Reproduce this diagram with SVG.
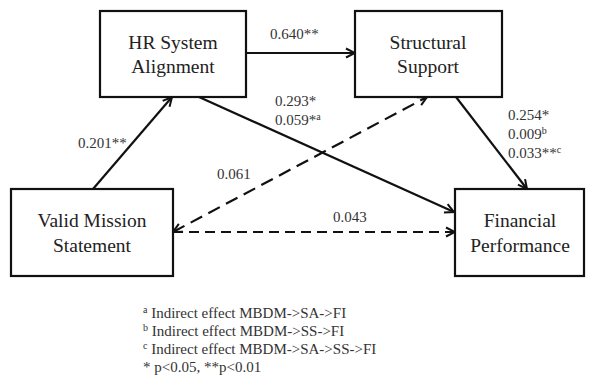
<svg xmlns="http://www.w3.org/2000/svg" width="593" height="390" viewBox="0 0 593 390">
<style>
text{font-family:"Liberation Serif","Times New Roman",serif}
.box{fill:#fff;stroke:#111;stroke-width:2.2}
.nt{font-size:19.5px;fill:#222;text-anchor:middle}
.lb{font-size:15px;fill:#333}
.sup{font-size:10px}
.ln{stroke:#111;stroke-width:2.2;fill:none}
.d1{stroke-dasharray:13 7}
.d2{stroke-dasharray:10 6}
</style>
<defs>
<marker id="ah" viewBox="0 0 12 12" refX="11" refY="6" markerWidth="12" markerHeight="12" markerUnits="userSpaceOnUse" orient="auto-start-reverse">
<path d="M2,1.5 L11,6 L2,10.5" fill="none" stroke="#111" stroke-width="2"/>
</marker>
</defs>
<rect width="593" height="390" fill="#fff"/>
<g id="hr">
<rect class="box" x="100" y="11" width="146" height="86"/>
<text class="nt" x="173" y="49">HR System</text>
<text class="nt" x="173" y="73">Alignment</text>
</g>
<g id="ss">
<rect class="box" x="355" y="11" width="147" height="86"/>
<text class="nt" x="428" y="49">Structural</text>
<text class="nt" x="428" y="73">Support</text>
</g>
<g id="vms">
<rect class="box" x="11" y="189" width="162" height="87"/>
<text class="nt" x="92" y="227">Valid Mission</text>
<text class="nt" x="92" y="252">Statement</text>
</g>
<g id="fp">
<rect class="box" x="455" y="189" width="129" height="87"/>
<text class="nt" x="520" y="227">Financial</text>
<text class="nt" x="520" y="252">Performance</text>
</g>
<g id="connectors">
<line class="ln" x1="93" y1="189" x2="172" y2="97" marker-end="url(#ah)"/>
<line class="ln" x1="246" y1="53" x2="355" y2="53" marker-end="url(#ah)"/>
<line class="ln" x1="199" y1="97" x2="454" y2="212" marker-end="url(#ah)"/>
<line class="ln" x1="456" y1="97" x2="527" y2="189" marker-end="url(#ah)"/>
<line class="ln d1" x1="173" y1="232" x2="427" y2="97" marker-start="url(#ah)" marker-end="url(#ah)"/>
<line class="ln d2" x1="173" y1="232" x2="455" y2="232" marker-end="url(#ah)"/>
<text class="lb" x="270" y="39">0.640**</text>
<text class="lb" x="78" y="148">0.201**</text>
<text class="lb" x="217" y="179">0.061</text>
<text class="lb" x="275" y="106">0.293*</text>
<text class="lb" x="275" y="125">0.059*<tspan class="sup" dy="-5">a</tspan></text>
<text class="lb" x="508" y="120">0.254*</text>
<text class="lb" x="508" y="139">0.009<tspan class="sup" dy="-5">b</tspan></text>
<text class="lb" x="508" y="158">0.033**<tspan class="sup" dy="-5">c</tspan></text>
<text class="lb" x="333" y="222">0.043</text>
</g>
<g id="notes">
<text class="lb" x="143" y="318"><tspan class="sup" dy="-5">a</tspan><tspan dy="5"> Indirect effect MBDM-&gt;SA-&gt;FI</tspan></text>
<text class="lb" x="143" y="336"><tspan class="sup" dy="-5">b</tspan><tspan dy="5"> Indirect effect MBDM-&gt;SS-&gt;FI</tspan></text>
<text class="lb" x="143" y="354"><tspan class="sup" dy="-5">c</tspan><tspan dy="5"> Indirect effect MBDM-&gt;SA-&gt;SS-&gt;FI</tspan></text>
<text class="lb" x="143" y="372">* p&lt;0.05, **p&lt;0.01</text>
</g>
</svg>
